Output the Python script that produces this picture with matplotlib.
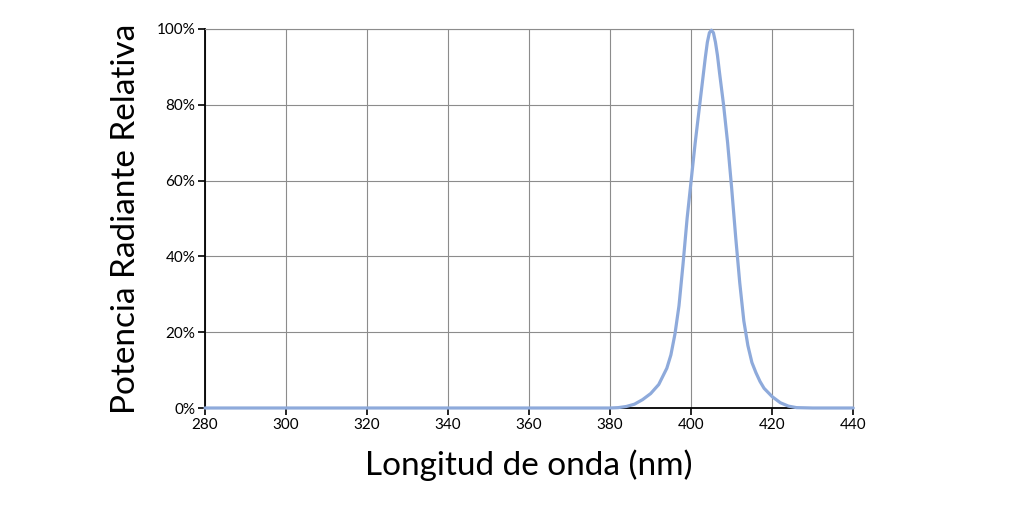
import numpy as np
import matplotlib.pyplot as plt
from matplotlib.ticker import FuncFormatter

# Valeurs (longueur d'onde en nm, puissance relative en %)
wavelength = [280, 300, 320, 340, 360, 380, 382, 384, 386, 388, 390, 392, 394,
              395, 396, 397, 398, 399, 400, 401, 402, 403, 403.5, 404, 404.5,
              405, 405.5, 406, 406.5, 407, 408, 409, 410, 411, 412, 413, 414,
              415, 416, 417, 418, 420, 422, 424, 426, 430, 440]
power = [0, 0, 0, 0, 0, 0, 0.1, 0.4, 1.0, 2.2, 3.8, 6.2, 10.5,
         14, 19.5, 27, 38, 50, 60, 70, 79, 88, 92.5, 96.5, 99,
         99.7, 99, 96.5, 93, 88.5, 80, 70, 58, 45, 33, 23, 16.5,
         12, 9.3, 7, 5.2, 3, 1.4, 0.5, 0.1, 0, 0]

x_ticks = [280, 300, 320, 340, 360, 380, 400, 420, 440]
y_ticks = [0, 20, 40, 60, 80, 100]

plt.rcParams['font.family'] = ['Lato', 'DejaVu Sans']

fig = plt.figure(figsize=(10.24, 5.16), dpi=100)
ax = fig.add_axes([0.2002, 0.2093, 0.633, 0.7345])

ax.plot(wavelength, power, color='#8eaadb', lw=2.3, solid_joinstyle='round',
        solid_capstyle='round', zorder=3, clip_on=False)

ax.set_xlim(280, 440)
ax.set_ylim(0, 100)
ax.set_xticks(x_ticks)
ax.set_yticks(y_ticks)
ax.yaxis.set_major_formatter(FuncFormatter(lambda v, p: f"{v:.0f}%"))

ax.grid(True, color='#8c8c8c', lw=0.8)
ax.set_axisbelow(True)
for s in ['top', 'right']:
    ax.spines[s].set_color('#8c8c8c')
    ax.spines[s].set_linewidth(0.8)
for s in ['left', 'bottom']:
    ax.spines[s].set_color('black')
    ax.spines[s].set_linewidth(1.3)

ax.tick_params(axis='both', direction='out', length=5, width=1.2,
               color='black', labelsize=11, pad=2)

ax.set_xlabel("Longitud de onda (nm)", fontsize=24, labelpad=13)
ax.set_ylabel("Potencia Radiante Relativa", fontsize=24, labelpad=11)

fig.savefig("out.png", dpi=100)
